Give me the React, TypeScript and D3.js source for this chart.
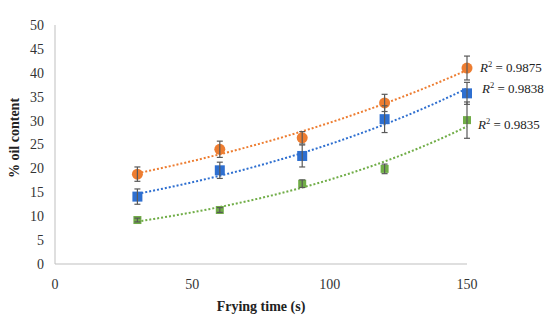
import React from "react";
import * as d3 from "d3";

const times = [30, 60, 90, 120, 150];
const orangeVals = [18.8, 24.0, 26.4, 33.7, 41.0];
const orangeErr = [1.5, 1.7, 1.3, 1.8, 2.5];
const blueVals = [14.1, 19.6, 22.6, 30.3, 35.7];
const blueErr = [1.6, 1.7, 2.3, 2.8, 2.3];
const greenVals = [9.2, 11.3, 16.8, 19.9, 30.1];
const greenErr = [0.4, 0.5, 0.8, 1.0, 3.8];
const r2Labels = ["0.9875", "0.9838", "0.9835"];
const xTicks = [0, 50, 100, 150];
const yTicks = [0, 5, 10, 15, 20, 25, 30, 35, 40, 45, 50];

const W = 550;
const H = 323;
const margin = { left: 55, right: 83, top: 25, bottom: 59 };
const FONT = "'Liberation Serif', 'DejaVu Serif', serif";

interface Series {
  vals: number[];
  err: number[];
  color: string;
  shape: "circle" | "square";
  size: number;
  labelDx: number;
  labelY: number;
}

// exponential trendline y = a*e^(bx), least squares on ln(y)
const expFit = (xs: number[], ys: number[]) => {
  const ly = ys.map((v) => Math.log(v));
  const mx = d3.mean(xs)!;
  const my = d3.mean(ly)!;
  let num = 0;
  let den = 0;
  xs.forEach((x, i) => {
    num += (x - mx) * (ly[i] - my);
    den += (x - mx) * (x - mx);
  });
  const b = num / den;
  const a = Math.exp(my - b * mx);
  return (x: number) => a * Math.exp(b * x);
};

const series: Series[] = [
  { vals: orangeVals, err: orangeErr, color: "#ED7D31", shape: "circle", size: 11, labelDx: 13, labelY: 67 },
  { vals: blueVals, err: blueErr, color: "#2E6FD0", shape: "square", size: 10, labelDx: 15, labelY: 88 },
  { vals: greenVals, err: greenErr, color: "#70AD47", shape: "square", size: 8, labelDx: 11, labelY: 124 },
];

const App: React.FC = () => {
  const x = d3.scaleLinear().domain([0, 150]).range([margin.left, W - margin.right]);
  const y = d3.scaleLinear().domain([0, 50]).range([H - margin.bottom, margin.top]);
  const x0 = x(0);
  const y0 = y(0);

  return (
    <svg width={W} height={H} style={{ position: "absolute", left: 0, top: 0 }}>
      <rect width={W} height={H} fill="#fff" />
      {/* axes */}
      <line x1={x0} x2={x0} y1={y(50)} y2={y0} stroke="#BFBFBF" strokeWidth={1} />
      <line x1={x0} x2={x(150)} y1={y0} y2={y0} stroke="#BFBFBF" strokeWidth={1} />
      {yTicks.map((t) => (
        <text key={"y" + t} x={x0 - 11} y={y(t)} dy="0.35em" textAnchor="end" fontFamily={FONT} fontSize={14} fill="#333">
          {t}
        </text>
      ))}
      {xTicks.map((t) => (
        <text key={"x" + t} x={x(t)} y={y0 + 25} textAnchor="middle" fontFamily={FONT} fontSize={14} fill="#333">
          {t}
        </text>
      ))}
      <text x={(x0 + x(150)) / 2} y={311} textAnchor="middle" fontFamily={FONT} fontSize={14} fontWeight="bold" fill="#222">
        Frying time (s)
      </text>
      <text
        transform={`translate(19,138) rotate(-90)`}
        textAnchor="middle"
        fontFamily={FONT}
        fontSize={14}
        fontWeight="bold"
        fill="#222"
      >
        % oil content
      </text>

      {series.map((s, si) => {
        const f = expFit(times, s.vals);
        const xs = d3.range(30, 150.01, 2);
        const line = d3
          .line<number>()
          .x((d) => x(d))
          .y((d) => y(f(d)));
        return (
          <g key={"s" + si}>
            <path d={line(xs)!} fill="none" stroke={s.color} strokeWidth={2} strokeDasharray="2,2" />
            {times.map((t, i) => {
              const cx = x(t);
              const cy = y(s.vals[i]);
              const hs = s.size / 2;
              return (
                <g key={i}>
                  {s.shape === "circle" ? (
                    <circle cx={cx} cy={cy} r={hs} fill={s.color} />
                  ) : (
                    <rect x={cx - hs} y={cy - hs} width={s.size} height={s.size} fill={s.color} />
                  )}
                  <g stroke="#595959" strokeWidth={1.2}>
                    <line x1={cx} x2={cx} y1={y(s.vals[i] + s.err[i])} y2={y(s.vals[i] - s.err[i])} />
                    <line x1={cx - 3} x2={cx + 3} y1={y(s.vals[i] + s.err[i])} y2={y(s.vals[i] + s.err[i])} />
                    <line x1={cx - 3} x2={cx + 3} y1={y(s.vals[i] - s.err[i])} y2={y(s.vals[i] - s.err[i])} />
                  </g>
                </g>
              );
            })}
            <text x={x(150) + s.labelDx} y={s.labelY} dy="0.35em" fontFamily={FONT} fontSize={13} fill="#222">
              <tspan fontStyle="italic">R</tspan>
              <tspan fontSize={8.5} dy="-5">2</tspan>
              <tspan dy="5">{" = " + r2Labels[si]}</tspan>
            </text>
          </g>
        );
      })}
    </svg>
  );
};

export default App;
